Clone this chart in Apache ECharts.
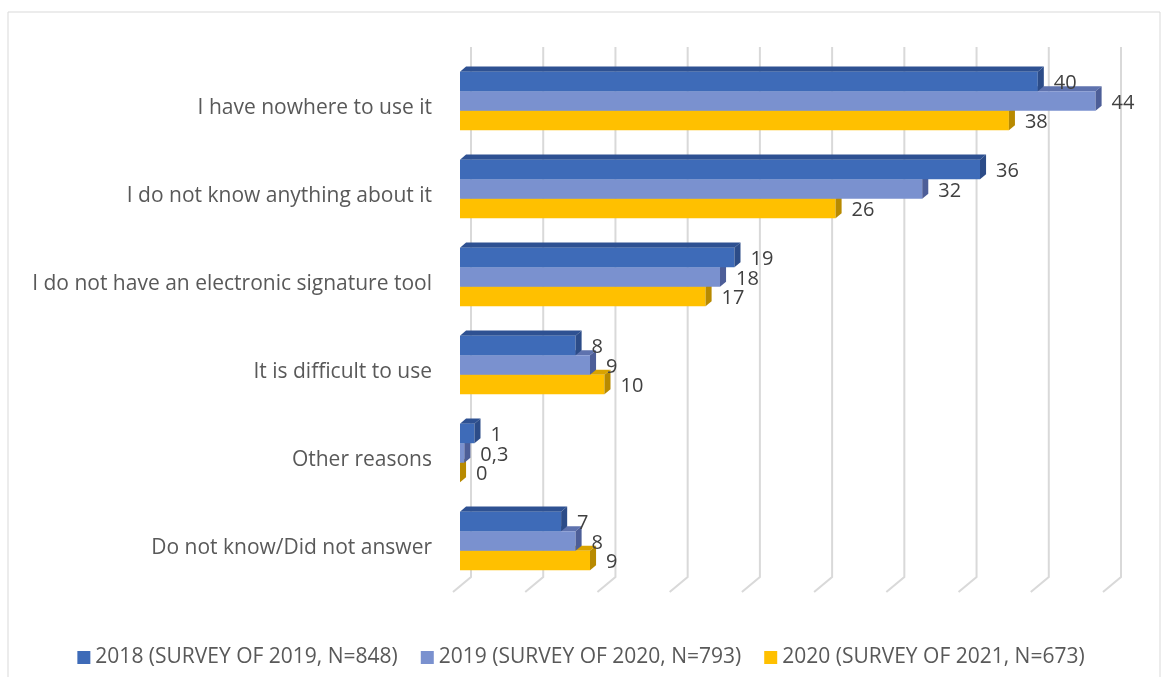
<!DOCTYPE html>
<html>
<head>
<meta charset="utf-8">
<script src="https://cdn.jsdelivr.net/npm/echarts@6/dist/echarts.min.js"></script>
<style>
  html, body { margin: 0; padding: 0; background: #ffffff; }
  #chart { width: 1162px; height: 677px; }
</style>
</head>
<body>
<div id="chart"></div>
<script>
// Reasons for not using an electronic signature, % of respondents
const categories = [
  'I have nowhere to use it',
  'I do not know anything about it',
  'I do not have an electronic signature tool',
  'It is difficult to use',
  'Other reasons',
  'Do not know/Did not answer'
];
const seriesNames = [
  '2018 (SURVEY OF 2019, N=848)',
  '2019 (SURVEY OF 2020, N=793)',
  '2020 (SURVEY OF 2021, N=673)'
];
const values2018 = [40, 36, 19, 8, 1, 7];
const values2019 = [44, 32, 18, 9, 0.3, 8];
const values2020 = [38, 26, 17, 10, 0, 9];
const gridTicks = [0, 5, 10, 15, 20, 25, 30, 35, 40, 45];

// face colours per series: front, top, side
const palettes = [
  { front: '#3E6BB8', top: '#2E5192', side: '#2C4C88' },
  { front: '#7A91CF', top: '#5E72AE', side: '#4D5E98' },
  { front: '#FFC000', top: '#D9A300', side: '#B88A00' }
];

const textFont = "'Open Sans', 'Liberation Sans', sans-serif";

function fmt(v) { return String(v).replace('.', ','); }

// 3D-looking horizontal bar: front rectangle, top face and right side face
function barRenderer(idx) {
  const pal = palettes[idx];
  return function (params, api) {
    const cat = api.value(0);
    const val = api.value(1);
    const base = api.coord([0, cat]);
    const end = api.coord([val, cat]);
    const band = api.size([0, 1])[1];
    const h = band * 0.222;
    const dx = h * 0.31, dy = -h * 0.26;
    const y0 = base[1] - 1.5 * h + idx * h;
    const x0 = base[0], x1 = end[0];
    const children = [];
    if (x1 > x0) {
      children.push({
        type: 'polygon',
        shape: { points: [[x0, y0], [x1, y0], [x1 + dx, y0 + dy], [x0 + dx, y0 + dy]] },
        style: { fill: pal.top }
      });
      children.push({
        type: 'rect',
        shape: { x: x0, y: y0, width: x1 - x0, height: h },
        style: { fill: pal.front }
      });
    }
    children.push({
      type: 'polygon',
      shape: { points: [[x1, y0], [x1 + dx, y0 + dy], [x1 + dx, y0 + dy + h], [x1, y0 + h]] },
      style: { fill: pal.side }
    });
    children.push({
      type: 'text',
      x: x1 + 16,
      y: y0 + h / 2 + 2,
      style: {
        text: fmt(val),
        fill: '#404040',
        font: '20px ' + textFont,
        verticalAlign: 'middle',
        align: 'left'
      }
    });
    return { type: 'group', children: children };
  };
}

// back-wall gridlines that bend onto the floor
function gridRenderer(params, api) {
  const v = api.value(0);
  const x = api.coord([v, 0])[0];
  const cs = params.coordSys;
  const top = cs.y - 10;
  const bottom = cs.y + cs.height - 8;
  return {
    type: 'polyline',
    shape: { points: [[x + 11, top], [x + 11, bottom], [x - 7, bottom + 15]] },
    style: { stroke: '#D9D9D9', lineWidth: 2, fill: null }
  };
}

const chart = echarts.init(document.getElementById('chart'));

const dataSets = [values2018, values2019, values2020];
const barSeries = dataSets.map(function (vals, i) {
  return {
    type: 'custom',
    name: seriesNames[i],
    renderItem: barRenderer(i),
    encode: { x: 1, y: 0 },
    data: vals.map(function (v, c) { return [c, v]; }),
    itemStyle: { color: palettes[i].front },
    clip: false,
    z: 10 - i
  };
});

chart.setOption({
  animation: false,
  backgroundColor: '#ffffff',
  graphic: [{
    type: 'rect',
    shape: { x: 8, y: 12, width: 1152, height: 700 },
    style: { fill: null, stroke: '#D9D9D9', lineWidth: 1 },
    silent: true
  }],
  grid: { left: 460, right: 52, top: 57, bottom: 92 },
  xAxis: {
    type: 'value',
    min: 0,
    max: 45,
    interval: 5,
    axisLine: { show: false },
    axisTick: { show: false },
    axisLabel: { show: false },
    splitLine: { show: false }
  },
  yAxis: {
    type: 'category',
    data: categories,
    inverse: true,
    axisLine: { show: false },
    axisTick: { show: false },
    axisLabel: {
      color: '#595959',
      fontFamily: textFont,
      fontSize: 21,
      margin: 28,
      verticalAlign: 'top',
      lineHeight: 14
    }
  },
  legend: {
    data: seriesNames,
    left: 'center',
    top: 642,
    icon: 'rect',
    itemWidth: 13,
    itemHeight: 13,
    itemGap: 23,
    textStyle: { color: '#595959', fontFamily: textFont, fontSize: 21 }
  },
  series: [{
    type: 'custom',
    name: 'grid',
    renderItem: gridRenderer,
    encode: { x: 0 },
    data: gridTicks.map(function (t) { return [t]; }),
    silent: true,
    clip: false,
    z: 1
  }].concat(barSeries)
});
</script>
</body>
</html>
